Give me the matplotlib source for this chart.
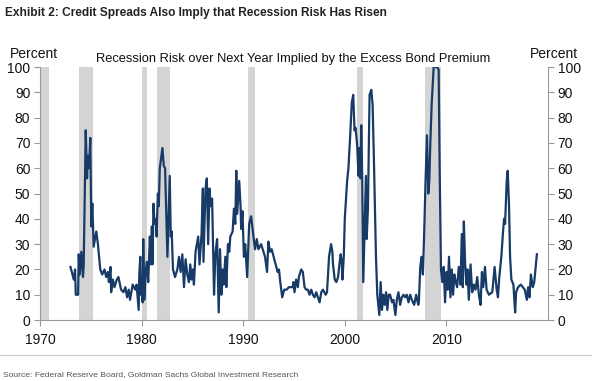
import matplotlib
matplotlib.use("Agg")
import matplotlib.pyplot as plt
from matplotlib.lines import Line2D

plt.rcParams["font.family"] = ["Liberation Sans", "DejaVu Sans"]

# recession risk implied by the excess bond premium
years = [
    1973.00, 1973.32, 1973.45, 1973.52, 1973.75, 1973.81, 1973.91, 1974.07, 1974.23, 1974.30,
    1974.50, 1974.63, 1974.72, 1974.82, 1974.95, 1975.05, 1975.15, 1975.28, 1975.54, 1975.70,
    1975.77, 1975.93, 1976.12, 1976.35, 1976.51, 1976.68, 1976.78, 1976.94, 1977.00, 1977.17,
    1977.33, 1977.56, 1977.72, 1977.98, 1978.21, 1978.40, 1978.57, 1978.73, 1978.86, 1979.12,
    1979.38, 1979.51, 1979.71, 1979.77, 1979.87, 1979.93, 1980.03, 1980.10, 1980.16, 1980.26,
    1980.42, 1980.52, 1980.65, 1980.81, 1980.91, 1981.01, 1981.07, 1981.17, 1981.27, 1981.40,
    1981.47, 1981.60, 1981.69, 1981.79, 1982.05, 1982.18, 1982.31, 1982.44, 1982.54, 1982.77,
    1982.87, 1982.96, 1983.09, 1983.29, 1983.52, 1983.68, 1983.84, 1984.01, 1984.17, 1984.33,
    1984.50, 1984.66, 1984.79, 1984.92, 1985.05, 1985.15, 1985.31, 1985.57, 1985.70, 1985.90,
    1986.03, 1986.09, 1986.29, 1986.42, 1986.55, 1986.68, 1986.81, 1986.94, 1987.13, 1987.26,
    1987.43, 1987.52, 1987.59, 1987.72, 1987.85, 1987.98, 1988.08, 1988.24, 1988.34, 1988.50,
    1988.63, 1988.73, 1988.96, 1989.09, 1989.22, 1989.32, 1989.41, 1989.61, 1989.74, 1989.80,
    1989.93, 1990.07, 1990.20, 1990.39, 1990.59, 1990.78, 1991.01, 1991.17, 1991.34, 1991.50,
    1991.76, 1991.99, 1992.15, 1992.35, 1992.48, 1992.64, 1992.80, 1993.00, 1993.13, 1993.39,
    1993.52, 1993.65, 1993.84, 1994.04, 1994.27, 1994.50,
    1994.55, 1994.88, 1994.95, 1995.05, 1995.21, 1995.38, 1995.48, 1995.71, 1995.87, 1996.04,
    1996.20, 1996.37, 1996.53, 1996.70, 1996.86, 1997.03, 1997.19, 1997.36, 1997.52, 1997.69,
    1997.85, 1998.12, 1998.25, 1998.45, 1998.65, 1998.78, 1998.84, 1999.01, 1999.17, 1999.34,
    1999.50, 1999.60, 1999.70, 1999.77, 1999.90, 2000.00, 2000.23, 2000.36, 2000.56, 2000.69,
    2000.83, 2000.96, 2001.06, 2001.22, 2001.35, 2001.42, 2001.55, 2001.62, 2001.72, 2001.82,
    2001.98, 2002.08, 2002.15, 2002.28, 2002.44, 2002.61, 2002.74, 2002.87, 2003.07, 2003.20,
    2003.30, 2003.40, 2003.53, 2003.66, 2003.80, 2003.93, 2004.06, 2004.19, 2004.32, 2004.46,
    2004.65, 2004.79, 2004.98, 2005.12, 2005.28, 2005.45, 2005.61, 2005.78, 2005.94, 2006.11,
    2006.27, 2006.44, 2006.60, 2006.83, 2007.03, 2007.23, 2007.29, 2007.43, 2007.56, 2007.69,
    2007.82, 2007.95, 2008.09, 2008.22, 2008.32, 2008.42, 2008.55, 2008.75, 2009.08, 2009.24,
    2009.34, 2009.47, 2009.60, 2009.74, 2009.87, 2010.00, 2010.13, 2010.26, 2010.40, 2010.53,
    2010.66, 2010.79, 2010.92, 2011.06, 2011.22, 2011.39, 2011.52, 2011.62, 2011.72, 2011.85,
    2011.98, 2012.08, 2012.21, 2012.38, 2012.54, 2012.71, 2012.87, 2013.04, 2013.20, 2013.37,
    2013.50, 2013.63, 2013.80, 2013.96, 2014.19, 2014.52, 2014.75, 2014.95, 2015.08, 2015.21,
    2015.41, 2015.58, 2015.68, 2015.78, 2015.94, 2016.04, 2016.17, 2016.27, 2016.40, 2016.60,
    2016.77, 2016.86, 2017.06, 2017.33, 2017.52, 2017.72, 2017.92, 2018.05, 2018.18, 2018.32,
    2018.51, 2018.65, 2018.91,
]
risk = [
    21, 16, 20, 10, 10, 26, 18, 27, 17, 22,
    75, 56, 65, 60, 72, 37, 46, 29, 35, 30,
    27, 20, 18, 20, 17, 19, 15, 21, 11, 16,
    13, 16, 17, 12, 11, 13, 9, 12, 8, 14,
    12, 14, 4, 18, 25, 10, 15, 7, 32, 8,
    20, 23, 15, 33, 22, 37, 22, 46, 38, 40,
    33, 50, 45, 60, 68, 61, 60, 40, 25, 57,
    33, 35, 20, 17, 20, 25, 19, 26, 13, 24,
    18, 15, 22, 16, 20, 14, 27, 33, 22, 34,
    52, 23, 52, 56, 30, 52, 45, 48, 10, 26,
    32, 16, 3, 28, 10, 20, 14, 25, 13, 30,
    27, 33, 35, 44, 38, 59, 42, 55, 45, 36,
    43, 25, 30, 17, 38, 41, 33, 28, 32, 28,
    30, 27, 25, 19, 31, 27, 28, 25, 23, 19,
    20, 15, 9, 12, 12, 13,
    13, 13, 15, 11, 16, 13, 17, 20, 19, 13,
    12, 12, 10, 12, 10, 9, 11, 9, 7, 11,
    12, 10, 11, 25, 30, 27, 22, 16, 15, 17,
    23, 26, 23, 16, 25, 40, 55, 60, 75, 86,
    89, 75, 76, 69, 57, 68, 56, 77, 55, 15,
    40, 57, 32, 44, 89, 91, 85, 63, 25, 10,
    6, 2, 15, 4, 10, 6, 11, 4, 10, 10,
    7, 8, 2, 8, 11, 6, 9, 10, 9, 10,
    7, 10, 8, 6, 10, 6, 7, 21, 25, 18,
    35, 55, 73, 50, 55, 70, 85, 100, 100, 99,
    60, 20, 15, 21, 7, 19, 12, 25, 9, 20,
    10, 18, 15, 13, 21, 14, 34, 13, 39, 22,
    14, 20, 8, 22, 11, 14, 12, 17, 10, 6,
    19, 13, 21, 12, 10, 11, 21, 12, 9, 17,
    25, 35, 40, 38, 55, 59, 45, 25, 16, 14,
    3, 11, 13, 14, 13, 12, 8, 13, 9, 18,
    13, 15, 26,
]

# NBER recessions (start, end)
rec_start = [1969.92, 1973.88, 1980.00, 1981.50, 1990.50, 2001.17, 2007.92]
rec_end = [1970.88, 1975.17, 1980.50, 1982.83, 1991.17, 2001.83, 2009.50]

fig = plt.figure(figsize=(5.92, 3.81), dpi=100)
ax = fig.add_axes([0.0676, 0.160, 0.858, 0.664])

for s, e in zip(rec_start, rec_end):
    ax.axvspan(s, e, color="#d4d4d4", lw=0, zorder=1)

ax.plot(years, risk, color="#173a66", lw=1.6, zorder=3)

ax.set_xlim(1970, 2020)
ax.set_ylim(0, 100)
ax.set_xticks([1970, 1980, 1990, 2000, 2010])
ax.set_yticks(range(0, 101, 10))

gray = "#9a9a9a"
ax.spines["top"].set_visible(False)
for side in ["left", "right", "bottom"]:
    ax.spines[side].set_color(gray)
    ax.spines[side].set_linewidth(0.8)

ax.tick_params(axis="both", colors=gray, labelcolor="#111111", labelsize=10,
               length=4, width=0.8, direction="out", pad=3)
ax.tick_params(axis="y", labelleft=True, labelright=True, left=True, right=True)
ax.tick_params(axis="x", pad=5)

fig.text(0.008, 0.967, "Exhibit 2: Credit Spreads Also Imply that Recession Risk Has Risen",
         weight="bold", fontsize=8.6, color="#222222", va="center", ha="left")
fig.text(0.495, 0.845, "Recession Risk over Next Year Implied by the Excess Bond Premium",
         fontsize=9.3, color="#111111", ha="center", va="center")
fig.text(0.058, 0.858, "Percent", fontsize=10, ha="center", va="center", color="#111111")
fig.text(0.935, 0.858, "Percent", fontsize=10, ha="center", va="center", color="#111111")

fig.add_artist(Line2D([0.0, 1.0], [0.068, 0.068], color="#cccccc", lw=0.8))
fig.text(0.005, 0.018, "Source: Federal Reserve Board, Goldman Sachs Global Investment Research",
         fontsize=6.1, color="#555555", ha="left", va="center")

fig.savefig("out.png", dpi=100)
